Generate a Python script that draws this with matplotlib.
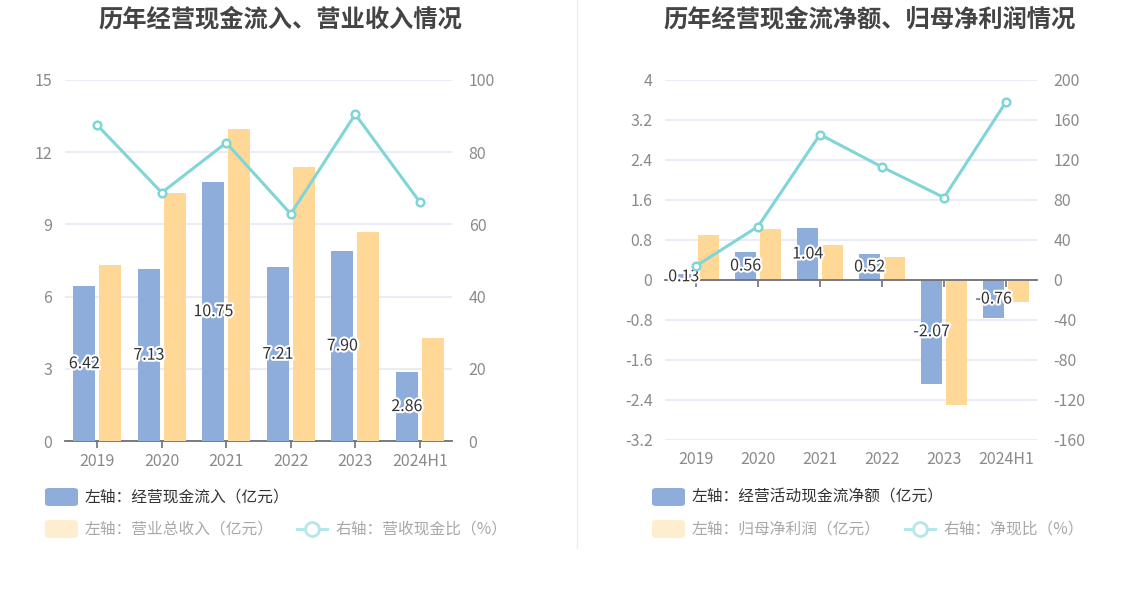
import matplotlib
matplotlib.use("Agg")
import matplotlib.pyplot as plt
import matplotlib.patheffects as pe
from matplotlib.patches import FancyBboxPatch
from matplotlib.lines import Line2D
import numpy as np

plt.rcParams['font.family'] = ['Noto Sans CJK SC', 'DejaVu Sans']

categories = ['2019', '2020', '2021', '2022', '2023', '2024H1']

# Left chart
cash_inflow = [6.42, 7.13, 10.75, 7.21, 7.90, 2.86]
revenue = [7.31, 10.32, 12.96, 11.38, 8.67, 4.29]
cash_ratio = [87.5, 68.8, 82.6, 62.9, 90.5, 66.2]

# Right chart
net_cf = [0.13, 0.56, 1.04, 0.52, -2.07, -0.76]
net_profit = [0.91, 1.03, 0.71, 0.46, -2.49, -0.43]
net_ratio = [14.0, 53.5, 145.5, 113.0, 82.5, 178.0]

left_ticks1 = [0, 3, 6, 9, 12, 15]
right_ticks1 = [0, 20, 40, 60, 80, 100]
left_ticks2 = [-3.2, -2.4, -1.6, -0.8, 0, 0.8, 1.6, 2.4, 3.2, 4]
right_ticks2 = [-160, -120, -80, -40, 0, 40, 80, 120, 160, 200]

BLUE = '#8EADDB'
ORANGE = '#FFD898'
CYAN = '#80D5D7'
GRID = '#E6E9F3'
TICK = '#8A8A8A'
AXIS = '#6E7079'

W, H = 1147, 589
fig = plt.figure(figsize=(W / 100, H / 100), dpi=100)
fig.patch.set_facecolor('white')


def fmt(v):
    s = ('%g' % v)
    return s


def make_chart(rect, bars1, bars2, line, lt, rt, title, title_x, zero_axis):
    ax = fig.add_axes(rect)
    x = np.arange(len(categories))
    bw = 0.34
    off = 0.2
    ax.bar(x - off, bars1, width=bw, color=BLUE, zorder=3)
    ax.bar(x + off, bars2, width=bw, color=ORANGE, zorder=3)
    for xi, v in zip(x, bars1):
        ax.text(xi - off, v / 2, '%.2f' % v, ha='center', va='center',
                fontsize=11.5, color='#333333', zorder=6,
                path_effects=[pe.withStroke(linewidth=3, foreground='white')])
    ax.set_xlim(-0.5, len(categories) - 0.5)
    ax.set_ylim(lt[0], lt[-1])
    ax.set_yticks(lt)
    ax.set_yticklabels([fmt(t) for t in lt])
    ax.set_xticks(x)
    ax.set_xticklabels(categories)
    ax.grid(axis='y', color=GRID, linewidth=1.2, zorder=0)
    ax.set_axisbelow(True)
    for s in ['left', 'right', 'top', 'bottom']:
        ax.spines[s].set_visible(False)
    ax.tick_params(axis='y', length=0, labelsize=11.5, labelcolor=TICK, pad=9)
    if zero_axis:
        ax.tick_params(axis='x', bottom=False, length=5, labelsize=11.5,
                       labelcolor=TICK, pad=8, top=True, labeltop=False,
                       direction='in', color=AXIS, width=1.2)
        ax.spines['top'].set_visible(True)
        ax.spines['top'].set_position(('data', 0))
        ax.spines['top'].set_color(AXIS)
        ax.spines['top'].set_linewidth(1.3)
        ax.spines['top'].set_zorder(5)
    else:
        ax.spines['bottom'].set_visible(True)
        ax.spines['bottom'].set_color(AXIS)
        ax.spines['bottom'].set_linewidth(1.3)
        ax.tick_params(axis='x', length=5, labelsize=11.5, labelcolor=TICK,
                       pad=3.5, color=AXIS, width=1.2)

    ax2 = ax.twinx()
    ax2.plot(x, line, color=CYAN, linewidth=2.2, marker='o', markersize=5.5,
             markerfacecolor='white', markeredgecolor=CYAN,
             markeredgewidth=1.8, zorder=7, clip_on=False)
    ax2.set_ylim(rt[0], rt[-1])
    ax2.set_yticks(rt)
    ax2.set_yticklabels([fmt(t) for t in rt])
    for s in ['left', 'right', 'top', 'bottom']:
        ax2.spines[s].set_visible(False)
    ax2.tick_params(axis='y', length=0, labelsize=11.5, labelcolor=TICK, pad=12)
    ax2.set_zorder(ax.get_zorder() + 1)
    ax2.patch.set_visible(False)

    fig.text(title_x / W, 1 - 19 / H, title, ha='center', va='center',
             fontsize=17.5, fontweight='bold', color='#444444')
    return ax


make_chart([65 / W, 1 - 441 / H, 387 / W, 361 / H], cash_inflow, revenue,
           cash_ratio, left_ticks1, right_ticks1,
           '历年经营现金流入、营业收入情况', 280, False)
make_chart([665 / W, 1 - 440 / H, 372 / W, 360 / H], net_cf, net_profit,
           net_ratio, left_ticks2, right_ticks2,
           '历年经营现金流净额、归母净利润情况', 870, True)

# separator
fig.add_artist(Line2D([577 / W, 577 / W], [1 - 548 / H, 1.0],
                      color='#EEEEEE', linewidth=1))


def legend_patch(x0, yc, color):
    w, h = 33, 18
    fig.add_artist(FancyBboxPatch((x0 / W, (H - yc - h / 2) / H), w / W, h / H,
                                  boxstyle='round,pad=0,rounding_size=0.004',
                                  facecolor=color, edgecolor='none',
                                  transform=fig.transFigure))


def legend_line(x0, yc):
    fig.add_artist(Line2D([x0 / W, (x0 + 30) / W], [1 - yc / H, 1 - yc / H],
                          color='#B5E6E8', linewidth=2.2))
    fig.add_artist(Line2D([(x0 + 15) / W], [1 - yc / H], marker='o',
                          markersize=10, markerfacecolor='white',
                          markeredgecolor='#B5E6E8', markeredgewidth=2))


def legend_text(x0, yc, s, color):
    fig.text(x0 / W, 1 - yc / H, s, ha='left', va='center', fontsize=11.3,
             color=color)


DARK = '#333333'
FADE = '#A8A8A8'
LBLUE = BLUE
LORANGE = '#FFEDCF'

for base, t1, t2, t3, lx in [
        (45, '左轴：经营现金流入（亿元）', '左轴：营业总收入（亿元）',
         '右轴：营收现金比（%）', 297),
        (652, '左轴：经营活动现金流净额（亿元）', '左轴：归母净利润（亿元）',
         '右轴：净现比（%）', 905)]:
    legend_patch(base, 497, LBLUE)
    legend_text(base + 40, 497, t1, DARK)
    legend_patch(base, 529, LORANGE)
    legend_text(base + 40, 529, t2, FADE)
    legend_line(lx, 529)
    legend_text(lx + 38, 529, t3, FADE)

fig.savefig('out.png', dpi=100, facecolor='white')
